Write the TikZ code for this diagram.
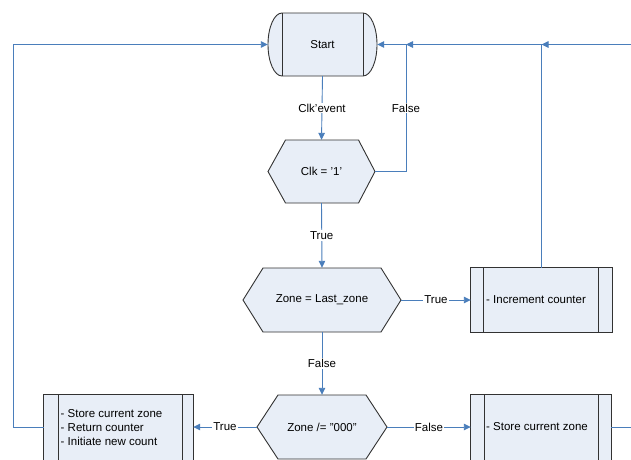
\documentclass[tikz,border=0pt]{standalone}
\usepackage{fontspec}
\setmainfont{Liberation Sans}
\usetikzlibrary{arrows.meta,calc}
\definecolor{conn}{RGB}{74,126,187}
\definecolor{nodefill}{RGB}{232,238,247}
\definecolor{nodeedge}{RGB}{50,50,50}
\tikzset{
  anchorbox/.style={draw=none,inner sep=0pt,font=\fontsize{11.5}{14}\selectfont},
  outline/.style={draw=nodeedge,fill=nodefill,line width=0.9pt},
  inner/.style={draw=nodeedge,line width=0.9pt},
  conline/.style={draw=conn,line width=0.9pt},
  conarrow/.style={conline,-{Triangle[length=7pt,width=6.5pt]}},
  lbl/.style={fill=white,inner sep=1pt,font=\fontsize{11.5}{14}\selectfont},
  txt/.style={inner sep=0pt,font=\fontsize{11.5}{14}\selectfont,align=left}
}
\begin{document}
\begin{tikzpicture}[x=1pt,y=-1pt]
\clip (0,0) rectangle (631,459);
\fill[white] (0,0) rectangle (631,459);
% ---------- Start terminator ----------
\path[outline] (282,13) -- (363,13)
  .. controls (370.7,13) and (377,27.1) .. (377,44.5)
  .. controls (377,61.9) and (370.7,76) .. (363,76) -- (282,76)
  .. controls (274.3,76) and (268,61.9) .. (268,44.5)
  .. controls (268,27.1) and (274.3,13) .. cycle;
\draw[inner] (282,13) -- (282,76) (363,13) -- (363,76);
\node[anchorbox,minimum width=109,minimum height=63] (start) at (322.5,44.5) {Start};
% ---------- Clk = '1' ----------
\path[outline] (268,171.5) -- (285.5,140) -- (358.5,140) -- (375,171.5) -- (358.5,203) -- (285.5,203) -- cycle;
\node[anchorbox,minimum width=107,minimum height=63] (clk) at (321.5,171.5) {Clk = ’1’};
% ---------- Zone = Last_zone ----------
\path[outline] (243,300) -- (263,268) -- (381,268) -- (401,300) -- (381,332) -- (263,332) -- cycle;
\node[anchorbox,minimum width=158,minimum height=64] (last) at (322,300) {Zone = Last\_zone};
% ---------- Zone /= "000" ----------
\path[outline] (257,427) -- (278,395) -- (366,395) -- (387,427) -- (366,459) -- (278,459) -- cycle;
\node[anchorbox,minimum width=130,minimum height=64] (zero) at (322,427) {Zone /= "000"};
% ---------- Increment counter ----------
\node[anchorbox,minimum width=141,minimum height=64] (inc) at (541.5,300) {};
\path[outline] (inc.north west) rectangle (inc.south east);
\draw[inner] (483.5,268) -- (483.5,332) (598.5,268) -- (598.5,332);
\node[txt,anchor=west] (inctext) at (486,300) {- Increment counter};
% ---------- left process box ----------
\node[anchorbox,minimum width=149,minimum height=64] (lbox) at (118.5,427) {};
\path[outline] (lbox.north west) rectangle ($(lbox.south east)+(0,20)$);
\draw[inner] (58,395) -- (58,480) (182,395) -- (182,480);
\node[txt,anchor=west] (ltext) at (60.5,427.5) {- Store current zone\\- Return counter\\- Initiate new count};
% ---------- right process box ----------
\node[anchorbox,minimum width=140,minimum height=64] (rbox) at (541,427) {};
\path[outline] (rbox.north west) rectangle ($(rbox.south east)+(0,20)$);
\draw[inner] (484,395) -- (484,480) (598.5,395) -- (598.5,480);
\node[txt,anchor=west] (rtext) at (486,427) {- Store current zone};
% ---------- connectors ----------
\coordinate (jclk) at (406,44.5);
\coordinate (jinc) at (541.5,44.5);
\coordinate (redge) at (645,44.5);
\coordinate (ledge) at (13,44.5);
\draw[conarrow] (start.south) -- node[lbl] {Clk’event} (clk.north);
\draw[conarrow] (clk.south) -- node[lbl] {True} (last.north);
\draw[conarrow] (last.south) -- node[lbl] {False} (zero.north);
\draw[conarrow] (last.east) -- node[lbl] {True} (inc.west);
\draw[conarrow] (zero.west) -- node[lbl] {True} (lbox.east);
\draw[conarrow] (zero.east) -- node[lbl] {False} (rbox.west);
\draw[conarrow] (clk.east) -| node[lbl,pos=0.75] {False} (jclk) -- (start.east);
\draw[conarrow] (inc.north) |- (jclk);
\draw[conarrow] (rbox.east) -| (redge) -- (jinc);
\draw[conarrow] (lbox.west) -| (ledge) -- (start.west);
\end{tikzpicture}
\end{document}
